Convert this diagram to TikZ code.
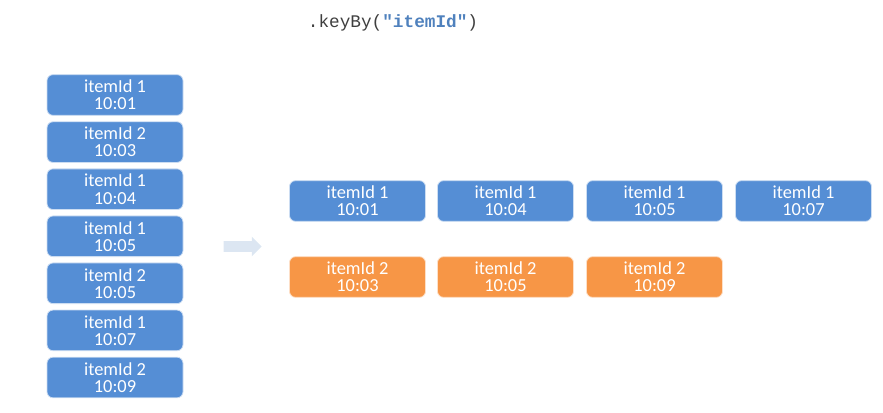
\documentclass[tikz,border=0pt]{standalone}
\usepackage{fontspec}
\setmainfont{Carlito}
\setmonofont{Liberation Mono}
\usetikzlibrary{shapes.arrows}

\definecolor{itemblue}{HTML}{558ED5}
\definecolor{itemorange}{HTML}{F79646}
\definecolor{codeblue}{HTML}{4F81BD}
\definecolor{codegray}{HTML}{3F3F3F}
\definecolor{arrowgray}{HTML}{DCE6F2}

\tikzset{
  % one event record: rounded box with two lines of white text
  record/.style={rounded corners=4.5pt, draw=white!70!#1, line width=0.6pt, fill=#1,
    minimum width=102pt, minimum height=30.5pt, inner sep=0pt, text=white,
    align=center, font=\fontsize{13.8}{12.8}\selectfont},
  record/.default=itemblue
}

\begin{document}
\begin{tikzpicture}[x=0.75pt, y=-0.75pt]

  \useasboundingbox (0,0) rectangle (883,413);

  % Define dimensions
  \def\colx{115}     % Centre of the input column
  \def\rowa{201}     % Centre of the itemId 1 row
  \def\rowb{277}     % Centre of the itemId 2 row

  % The operator on top
  \node (op) at (393,23) {\fontsize{13.3}{14}\selectfont\ttfamily\color{codegray}.keyBy(\textbf{\color{codeblue}"itemId"})};

  % Input stream
  \node [record] (l1) at (\colx, 95.0) {itemId 1\\10:01};
  \node [record] (l2) at (\colx,142.1) {itemId 2\\10:03};
  \node [record] (l3) at (\colx,189.2) {itemId 1\\10:04};
  \node [record] (l4) at (\colx,236.3) {itemId 1\\10:05};
  \node [record] (l5) at (\colx,283.3) {itemId 2\\10:05};
  \node [record] (l6) at (\colx,330.4) {itemId 1\\10:07};
  \node [record] (l7) at (\colx,377.5) {itemId 2\\10:09};

  % The arrow between input and keyed streams
  \node [single arrow, fill=arrowgray, draw=none, minimum height=28.5pt,
    inner xsep=0pt, inner ysep=3.75pt, single arrow head extend=3.4pt,
    single arrow head indent=0pt] (arrow) at (240,246.5) {};

  % Keyed stream for itemId 1
  \node [record] (k1) at (357.5,\rowa) {itemId 1\\10:01};
  \node [record] (k2) at (505.5,\rowa) {itemId 1\\10:04};
  \node [record] (k3) at (654.5,\rowa) {itemId 1\\10:05};
  \node [record] (k4) at (803.5,\rowa) {itemId 1\\10:07};

  % Keyed stream for itemId 2
  \node [record=itemorange] (o1) at (357.5,\rowb) {itemId 2\\10:03};
  \node [record=itemorange] (o2) at (505.5,\rowb) {itemId 2\\10:05};
  \node [record=itemorange] (o3) at (654.5,\rowb) {itemId 2\\10:09};

\end{tikzpicture}
\end{document}
